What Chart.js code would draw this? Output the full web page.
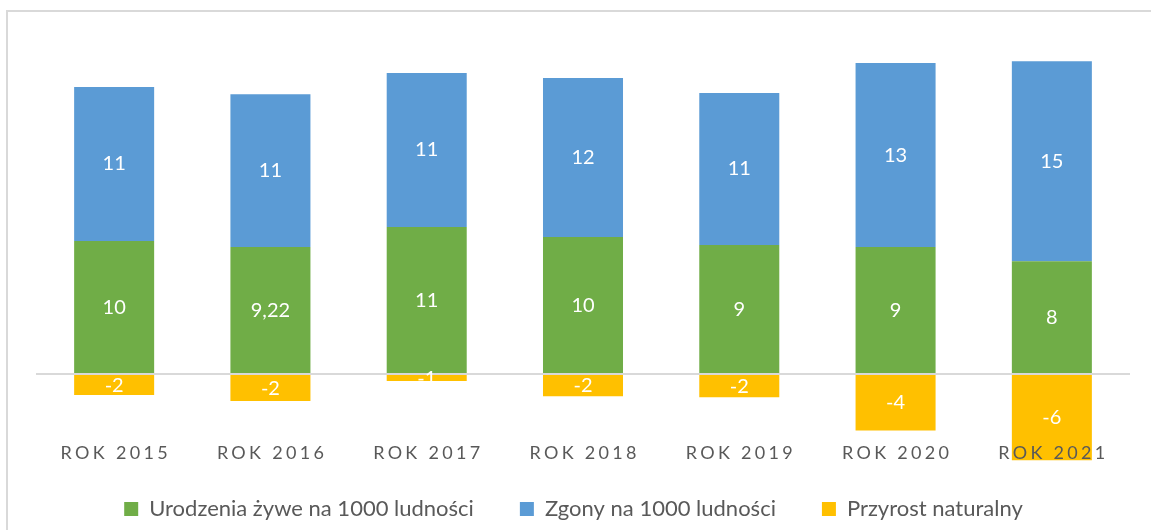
<!DOCTYPE html>
<html>
<head>
<meta charset="utf-8">
<script src="https://cdn.jsdelivr.net/npm/chart.js@4.4.0/dist/chart.umd.min.js"></script>
<style>
  html, body { margin: 0; padding: 0; background: #fff; }
  #wrap { width: 1151px; height: 530px; position: relative; }
</style>
</head>
<body>
<div id="wrap"><canvas id="chart"></canvas></div>
<script>
// Birth / death rate per 1000 inhabitants
const years = ['ROK 2015', 'ROK 2016', 'ROK 2017', 'ROK 2018', 'ROK 2019', 'ROK 2020', 'ROK 2021'];
const births = [9.66, 9.22, 10.68, 9.95, 9.37, 9.22, 8.20];
const deaths = [11.18, 11.10, 11.18, 11.55, 11.04, 13.36, 14.52];
const growth = [-1.52, -1.96, -0.50, -1.60, -1.67, -4.10, -6.25];

// labels exactly as printed on the bars
const birthLabels = ['10', '9,22', '11', '10', '9', '9', '8'];
const deathLabels = ['11', '11', '11', '12', '11', '13', '15'];
const growthLabels = ['-2', '-2', '-1', '-2', '-2', '-4', '-6'];

const textGrey = '#595959';
Chart.defaults.font.family = 'Lato';

// light grey frame, only top and left edges are inside the picture
const frame = {
  id: 'frame',
  beforeDraw(chart) {
    const c = chart.ctx;
    c.save();
    c.fillStyle = '#d9d9d9';
    c.fillRect(6, 10, chart.width - 6, 2);
    c.fillRect(6, 10, 2, chart.height - 10);
    c.restore();
  }
};

// value labels in the middle of every segment + spaced category names
const barLabels = {
  id: 'barLabels',
  afterDraw(chart) {
    const c = chart.ctx;
    const sets = [birthLabels, deathLabels, growthLabels];
    c.save();
    c.font = '20px Lato';
    c.fillStyle = '#ffffff';
    c.textAlign = 'center';
    c.textBaseline = 'middle';
    chart.data.datasets.forEach((ds, i) => {
      chart.getDatasetMeta(i).data.forEach((bar, j) => {
        const p = bar.getProps(['x', 'y', 'base'], true);
        c.fillText(sets[i][j], p.x, (p.y + p.base) / 2);
      });
    });

    // category names sit on top of the bars, like in the original
    const xs = chart.scales.x;
    c.font = '18px Lato';
    c.fillStyle = textGrey;
    c.letterSpacing = '3.3px';
    years.forEach((t, i) => {
      c.fillText(t, xs.getPixelForValue(i) + 1.6, xs.top + 10);
    });
    c.restore();
  }
};

new Chart(document.getElementById('chart'), {
  type: 'bar',
  data: {
    labels: years,
    datasets: [
      { label: 'Urodzenia żywe na 1000 ludności', data: births, backgroundColor: '#70ad47', clip: false },
      { label: 'Zgony na 1000 ludności', data: deaths, backgroundColor: '#5b9bd5', clip: false },
      { label: 'Przyrost naturalny', data: growth, backgroundColor: '#ffc000', clip: false }
    ]
  },
  options: {
    responsive: true,
    maintainAspectRatio: false,
    animation: false,
    categoryPercentage: 1,
    barPercentage: 0.512,
    layout: { padding: { left: 17, right: 21, top: 43.5, bottom: 0 } },
    scales: {
      x: {
        stacked: true,
        grid: { display: false, drawTicks: false },
        border: { display: false },
        ticks: { display: false },
        afterFit(scale) { scale.height = 9; }
      },
      y: {
        stacked: true,
        z: 1,
        min: -5,
        max: 24,
        ticks: { display: false, stepSize: 1 },
        grid: {
          drawTicks: false,
          lineWidth: 2,
          color: ctx => ctx.tick && ctx.tick.value === 0 ? '#d9d9d9' : 'rgba(0,0,0,0)'
        },
        border: { display: false },
        afterFit(scale) { scale.width = 19; }
      }
    },
    plugins: {
      legend: {
        position: 'bottom',
        labels: {
          color: textGrey,
          font: { size: 22 },
          boxWidth: 14,
          boxHeight: 14,
          padding: 46
        }
      },
      tooltip: { enabled: false }
    }
  },
  plugins: [frame, barLabels]
});
</script>
</body>
</html>
